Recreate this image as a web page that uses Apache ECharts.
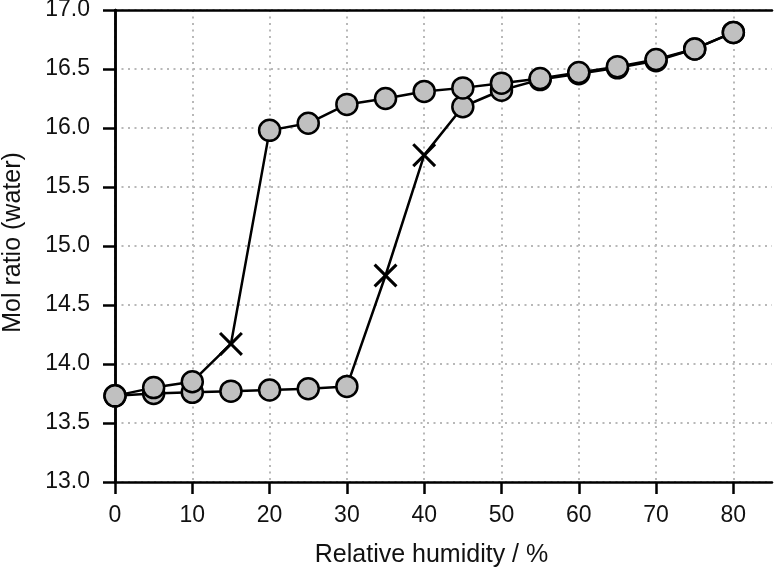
<!DOCTYPE html>
<html>
<head>
<meta charset="utf-8">
<script src="https://cdn.jsdelivr.net/npm/echarts@6/dist/echarts.min.js"></script>
<style>html,body{margin:0;padding:0;background:#fff}#c{width:774px;height:569px}</style>
</head>
<body>
<div id="c"></div>
<script>
// Relative humidity (%) steps
const humidity = [0, 5, 10, 15, 20, 25, 30, 35, 40, 45, 50, 55, 60, 65, 70, 75, 80];
// Sorption branch (increasing humidity)
const sorption = [13.73, 13.75, 13.76, 13.77, 13.78, 13.79, 13.81, 14.75, 15.77, 16.18, 16.32, 16.41, 16.46, 16.51, 16.57, 16.67, 16.81];
// Desorption branch (values listed against the same humidity steps)
const desorption = [13.73, 13.80, 13.85, 14.17, 15.98, 16.04, 16.20, 16.25, 16.31, 16.34, 16.38, 16.42, 16.47, 16.52, 16.58, 16.67, 16.81];
// Humidity steps drawn with a cross instead of a circle
const sorptionCross = [35, 40];
const desorptionCross = [15];
const xTicks = [0, 10, 20, 30, 40, 50, 60, 70, 80];
const yTicks = ['13.0', '13.5', '14.0', '14.5', '15.0', '15.5', '16.0', '16.5', '17.0'];

const FONT = "'Liberation Sans', Arial, Helvetica, sans-serif";
const crossPath = 'path://M0,9L9,0L50,41L91,0L100,9L59,50L100,91L91,100L50,59L9,100L0,91L41,50Z';

function buildData(values, crosses, reverse) {
  const pts = humidity.map((h, i) => {
    const d = { value: [h, values[i]] };
    if (crosses.indexOf(h) >= 0) {
      d.symbol = crossPath;
      d.symbolSize = 24;
      d.itemStyle = { color: '#000', borderWidth: 0 };
    }
    return d;
  });
  return reverse ? pts.reverse() : pts;
}

const gridLine = { show: true, lineStyle: { color: '#b8b8b8', width: 2, type: [2, 4.5] } };
const frameLine = { show: true, lineStyle: { color: '#000', width: 2.5 } };

const chart = echarts.init(document.getElementById('c'), null, { renderer: 'canvas' });
chart.setOption({
  animation: false,
  textStyle: { fontFamily: FONT },
  grid: { left: 115, top: 10, right: 2, bottom: 87, show: false, containLabel: false, outerBoundsMode: 'none' },
  xAxis: [{
    type: 'value', min: 0, max: 85, interval: 10,
    name: 'Relative humidity / %', nameLocation: 'middle', nameGap: 61,
    nameTextStyle: { fontSize: 25, color: '#111', fontFamily: FONT, padding: [0, 24, 0, 0] },
    axisLine: frameLine,
    axisTick: { show: true, inside: false, length: 12, lineStyle: { color: '#000', width: 2.5 }, customValues: xTicks },
    axisLabel: { fontSize: 23, color: '#111', margin: 22, fontFamily: FONT, customValues: xTicks },
    splitLine: gridLine
  }, {
    type: 'value', min: 0, max: 85, position: 'top',
    axisLine: frameLine, axisTick: { show: false }, axisLabel: { show: false }, splitLine: { show: false }
  }],
  yAxis: [{
    type: 'value', min: 13, max: 17, interval: 0.5,
    name: 'Mol ratio (water)', nameLocation: 'middle', nameGap: 89, nameRotate: 90,
    nameTextStyle: { fontSize: 25, color: '#111', fontFamily: FONT, padding: [0, 0, 0, 7] },
    axisLine: frameLine,
    axisTick: { show: true, inside: false, length: 12, lineStyle: { color: '#000', width: 2.5 } },
    axisLabel: { fontSize: 23, color: '#111', margin: 25, fontFamily: FONT,
      formatter: v => yTicks.find(t => Math.abs(parseFloat(t) - v) < 1e-6) || '' },
    splitLine: gridLine
  }, {
    type: 'value', min: 13, max: 17, position: 'right',
    axisLine: frameLine, axisTick: { show: false }, axisLabel: { show: false }, splitLine: { show: false }
  }],
  series: [
    {
      name: 'Sorption', type: 'line', data: buildData(sorption, sorptionCross, false),
      symbol: 'circle', symbolSize: 21, z: 2,
      lineStyle: { color: '#000', width: 2.5 },
      itemStyle: { color: '#c0c0c0', borderColor: '#000', borderWidth: 2.5 }
    },
    {
      name: 'Desorption', type: 'line', data: buildData(desorption, desorptionCross, true),
      symbol: 'circle', symbolSize: 21, z: 3,
      lineStyle: { color: '#000', width: 2.5 },
      itemStyle: { color: '#c0c0c0', borderColor: '#000', borderWidth: 2.5 }
    }
  ]
});
</script>
</body>
</html>
